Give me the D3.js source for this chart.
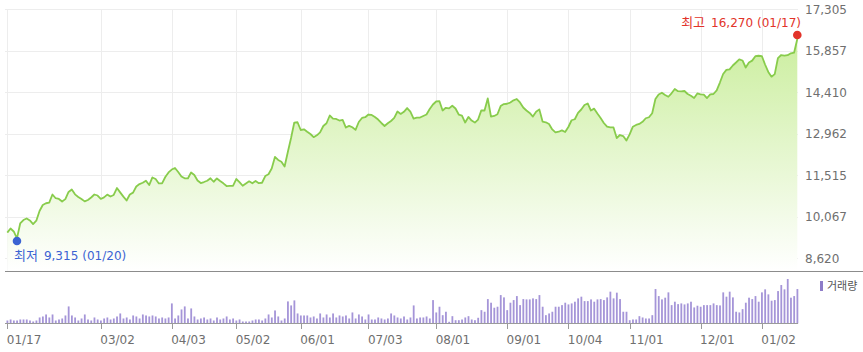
<!DOCTYPE html>
<html>
<head>
<meta charset="utf-8">
<script src="https://cdn.jsdelivr.net/npm/d3@7/dist/d3.min.js"></script>
<style>
  html, body { margin: 0; padding: 0; background: #fff; }
  svg { display: block; font-family: "DejaVu Sans", "Noto Sans CJK KR", sans-serif; }
  .ko { font-family: "Noto Sans CJK KR", sans-serif; font-size: 13px; }
</style>
</head>
<body>
<svg id="chart" width="863" height="352"></svg>
<script>
/* 1-year daily chart: close line + volume bars
   - trading days 2023-01-17 ~ 2024-01-17 (KRX holidays skipped)
*/

// market holidays (weekdays with no trading)
const holidays = [
  "2023-01-23","2023-01-24","2023-03-01","2023-05-01","2023-05-05","2023-05-29",
  "2023-06-06","2023-08-15","2023-09-28","2023-09-29","2023-10-02","2023-10-03",
  "2023-10-09","2023-12-25","2023-12-29","2024-01-01"
];

// daily close (원)
const closes = [
  9515, 9660, 9555, 9315, 9835, 9955,10010, 9940, 9815, 9930,
 10270,10480,10540,10560,10845,10715,10690,10600,10685,10935,
 11020,10850,10760,10690,10605,10655,10740,10845,10810,10690,
 10745,10840,10775,10830,11070,10920,10770,10635,10845,10910,
 11125,11210,11255,11325,11175,11440,11385,11230,11235,11455,
 11615,11715,11770,11630,11475,11410,11405,11615,11525,11335,
 11245,11280,11325,11410,11290,11405,11315,11235,11140,11145,
 11150,11385,11280,11150,11230,11305,11235,11315,11240,11255,
 11490,11550,11750,12155,12050,11990,11820,12330,12815,13355,
 13365,13095,13120,13035,12955,12845,12910,13015,13235,13330,
 13600,13495,13480,13425,13445,13180,13240,13190,13100,13375,
 13515,13540,13635,13620,13550,13460,13340,13235,13330,13410,
 13515,13740,13655,13730,13860,13735,13495,13525,13530,13585,
 13635,13830,13985,14090,14105,13775,13870,13850,13940,13845,
 13635,13600,13355,13550,13425,13355,13460,13780,13775,14195,
 13565,13585,13645,13930,14000,14010,14055,14130,14175,14055,
 13880,13775,13690,13565,13730,13815,13390,13365,13305,13115,
 13010,13035,13080,13025,13200,13435,13470,13695,13810,13965,
 14020,13775,13840,13670,13515,13340,13210,13190,13185,12815,
 12920,12885,12730,12940,13210,13270,13305,13380,13505,13540,
 13680,14175,14335,14395,14315,14255,14375,14525,14450,14440,
 14455,14350,14290,14210,14370,14340,14330,14210,14340,14350,
 14475,14750,15050,15190,15210,15345,15450,15560,15520,15275,
 15450,15515,15670,15685,15675,15380,15120,14955,15045,15605,
 15710,15690,15705,15770,15790,16270
];

// daily volume (천주)
const volumes = [
   30, 40, 30, 30, 40, 40, 40, 30, 20, 30,
   60, 70, 90, 60, 90, 30, 40, 50, 80,170,
   80, 60, 30, 50, 90, 40, 30, 60, 40, 30,
   50, 60, 40, 50, 70,100, 50, 60, 40, 80,
   70, 50, 90, 80, 70, 80, 70, 50, 60, 50,
   60,200, 50, 80,140,170, 50,150, 70, 40,
   50, 60, 40, 50, 30, 60, 40, 50, 70, 40,
   50, 30, 40, 20, 20, 20, 30, 40, 40, 30,
   50, 90, 60,130, 70, 30, 50,220,180,230,
  100, 80, 80, 80, 60, 70, 50,100, 60, 90,
   60,100, 60, 80, 70, 80, 50,110, 50, 90,
   70, 40, 90, 40, 40, 60, 50, 40, 50,100,
   80, 60, 50, 70, 40, 60,180, 50, 60, 60,
   70, 50,233,110,167, 83,117, 17, 73, 33,
   33, 40, 60, 73, 40, 33, 57,133,117,243,
  207,157,167,283,260,133,207,233,273,183,
  243,240,240,250,243,283,167, 83,100,117,
  167,167,183,207,190,200,217,250,267,223,
  223,240,217,240,243,233,260,317,250,307,
  243,117,117, 33, 40, 40, 73, 60, 50, 50,
   83,343,273,240,257,310,183,217,193,200,
  190,200,217,160,177,167,183,183,183,200,
  183,180,310,267,317,260,117,110,143,207,
  257,243,273,217,310,340,290,227,233,323,
  383,340,443,257,273,343
];

const yTicks = [8620, 10067, 11515, 12962, 14410, 15857, 17305];
const xTickDates = ["2023-01-17","2023-03-02","2023-04-03","2023-05-02","2023-06-01","2023-07-03",
                    "2023-08-01","2023-09-01","2023-10-04","2023-11-01","2023-12-01","2024-01-02"];

const svg = d3.select("#chart");

/* ---------- trading days ---------- */
const parse = d3.timeParse("%Y-%m-%d");
const fmtKey = d3.timeFormat("%Y-%m-%d");
const fmtTick = d3.timeFormat("%m/%d");
const fmtNum = d3.format(",");
const holidaySet = new Set(holidays);
const days = d3.timeDay.range(parse("2023-01-17"), parse("2024-01-18"))
  .filter(d => d.getDay() !== 0 && d.getDay() !== 6 && !holidaySet.has(fmtKey(d)));

const data = days.map((d, i) => ({ date: d, key: fmtKey(d), close: closes[i], vol: volumes[i], i }));

/* ---------- scales ---------- */
const x = d3.scaleLinear().domain([0, data.length - 1]).range([7.3, 797.3]);
const y = d3.scaleLinear().domain([yTicks[0], yTicks[yTicks.length - 1]]).range([258.3, 9.3]);
const yv = d3.scaleLinear().domain([0, d3.max(volumes)]).range([323.5, 279]);

const tickIdx = xTickDates.map(k => data.findIndex(d => d.key === k));

/* ---------- defs ---------- */
const defs = svg.append("defs");
const grad = defs.append("linearGradient")
  .attr("id", "areaFill")
  .attr("gradientUnits", "userSpaceOnUse")
  .attr("x1", 0).attr("y1", 9).attr("x2", 0).attr("y2", 271);
grad.append("stop").attr("offset", "0%").attr("stop-color", "#c5ec93");
grad.append("stop").attr("offset", "100%").attr("stop-color", "#ffffff");

/* ---------- grid ---------- */
const grid = svg.append("g").attr("class", "grid")
  .attr("stroke", "#ededed").attr("stroke-width", 1).attr("shape-rendering", "crispEdges");

grid.selectAll("line.h")
  .data(yTicks)
  .join("line")
  .attr("class", "h")
  .attr("x1", 5).attr("x2", 798)
  .attr("y1", d => Math.round(y(d)) + 0.5)
  .attr("y2", d => Math.round(y(d)) + 0.5);

grid.selectAll("line.v")
  .data(tickIdx)
  .join("line")
  .attr("class", "v")
  .attr("x1", d => Math.round(x(d)) + 0.5)
  .attr("x2", d => Math.round(x(d)) + 0.5)
  .attr("y1", 9).attr("y2", 271);

/* ---------- price area + line ---------- */
const area = d3.area()
  .x(d => x(d.i))
  .y0(271)
  .y1(d => y(d.close));

const line = d3.line()
  .x(d => x(d.i))
  .y(d => y(d.close));

svg.append("path")
  .datum(data)
  .attr("d", area)
  .attr("fill", "url(#areaFill)");

svg.append("path")
  .datum(data)
  .attr("d", line)
  .attr("fill", "none")
  .attr("stroke", "#88cc4c")
  .attr("stroke-width", 1.8)
  .attr("stroke-linejoin", "round");

/* ---------- y axis labels (right) ---------- */
svg.append("g")
  .selectAll("text")
  .data(yTicks)
  .join("text")
  .attr("x", 805)
  .attr("y", d => y(d))
  .attr("dy", "0.36em")
  .attr("font-size", 12)
  .attr("fill", "#6f6f6f")
  .text(d => fmtNum(d));

/* ---------- high / low markers ---------- */
const hi = data.reduce((a, b) => (b.close > a.close ? b : a));
const lo = data.reduce((a, b) => (b.close < a.close ? b : a));

function markerLabel(sel, word, d) {
  sel.append("tspan").attr("class", "ko").text(word);
  sel.append("tspan").attr("dx", 6).text(fmtNum(d.close));
  sel.append("tspan").attr("dx", 4).text(`(${fmtTick(d.date)})`);
}

svg.append("circle")
  .attr("cx", x(hi.i)).attr("cy", y(hi.close) - 4)
  .attr("r", 4.3).attr("fill", "#e2332a");
svg.append("text")
  .attr("x", 801).attr("y", 23).attr("dy", "0.36em")
  .attr("text-anchor", "end")
  .attr("font-size", 12).attr("fill", "#e2332a")
  .call(markerLabel, "최고", hi);

svg.append("circle")
  .attr("cx", x(lo.i)).attr("cy", y(lo.close) + 2.7)
  .attr("r", 4.3).attr("fill", "#3b63d3");
svg.append("text")
  .attr("x", 14).attr("y", 256).attr("dy", "0.36em")
  .attr("font-size", 12).attr("fill", "#3b63d3")
  .call(markerLabel, "최저", lo);

/* ---------- separator ---------- */
svg.append("line")
  .attr("x1", 5).attr("x2", 863).attr("y1", 271.5).attr("y2", 271.5)
  .attr("stroke", "#8c8c8c").attr("stroke-width", 1);

/* ---------- volume bars ---------- */
svg.append("g")
  .selectAll("rect")
  .data(data)
  .join("rect")
  .attr("x", d => x(d.i) - 0.8)
  .attr("width", 1.8)
  .attr("y", d => yv(d.vol))
  .attr("height", d => yv(0) - yv(d.vol))
  .attr("fill", "#a595d8");

// volume baseline + ticks
svg.append("line")
  .attr("x1", 5).attr("x2", 798).attr("y1", 323.5).attr("y2", 323.5)
  .attr("stroke", "#9a9a9a");

svg.append("g")
  .selectAll("line")
  .data(tickIdx)
  .join("line")
  .attr("x1", d => Math.round(x(d)) + 0.5)
  .attr("x2", d => Math.round(x(d)) + 0.5)
  .attr("y1", 323.5).attr("y2", 329)
  .attr("stroke", "#9a9a9a");

svg.append("g")
  .selectAll("text")
  .data(tickIdx)
  .join("text")
  .attr("x", d => x(d) - 0.5)
  .attr("y", 339.5)
  .attr("dy", "0.36em")
  .attr("font-size", 12)
  .attr("fill", "#6f6f6f")
  .text(d => fmtTick(data[d].date));

// legend
svg.append("rect")
  .attr("x", 820).attr("y", 281).attr("width", 3).attr("height", 10)
  .attr("fill", "#8e7cc8");
svg.append("text")
  .attr("x", 827).attr("y", 286.5).attr("dy", "0.36em")
  .attr("font-family", "Noto Sans CJK KR").attr("font-size", 11)
  .attr("fill", "#555")
  .text("거래량");
</script>
</body>
</html>
